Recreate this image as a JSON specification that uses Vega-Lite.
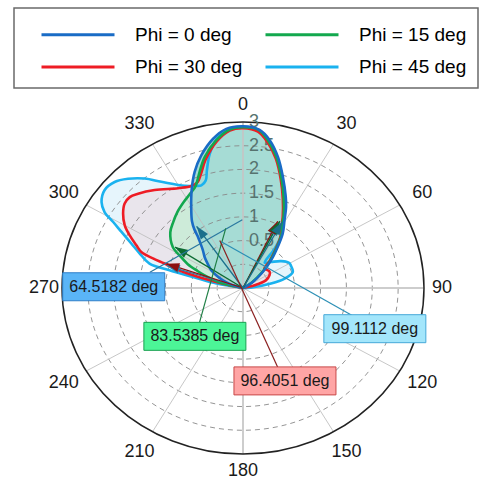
{
  "$schema": "https://vega.github.io/schema/vega-lite/v6.json",
  "width": 362,
  "height": 332,
  "autosize": {"type": "none"},
  "padding": {"left": 62, "top": 122, "right": 59, "bottom": 25},
  "background": "white",
  "config": {"view": {"stroke": null}, "font": "Liberation Sans", "legend": {"strokeWidth": 1.5}},
  "resolve": {"scale": {"color": "independent", "fill": "independent", "stroke": "independent"}},
  "datasets": {
    "curves": [
      {"series": "Phi = 45 deg", "angle": -84, "value": -0.5},
      {"series": "Phi = 45 deg", "angle": -79.7, "value": 0.02},
      {"series": "Phi = 45 deg", "angle": -76.5, "value": 0.49},
      {"series": "Phi = 45 deg", "angle": -75.3, "value": 0.97},
      {"series": "Phi = 45 deg", "angle": -74.1, "value": 1.38},
      {"series": "Phi = 45 deg", "angle": -69.9, "value": 1.63},
      {"series": "Phi = 45 deg", "angle": -66.6, "value": 1.85},
      {"series": "Phi = 45 deg", "angle": -63.3, "value": 2.13},
      {"series": "Phi = 45 deg", "angle": -61, "value": 2.37},
      {"series": "Phi = 45 deg", "angle": -59.1, "value": 2.62},
      {"series": "Phi = 45 deg", "angle": -56.5, "value": 2.78},
      {"series": "Phi = 45 deg", "angle": -52.4, "value": 2.88},
      {"series": "Phi = 45 deg", "angle": -48, "value": 2.84},
      {"series": "Phi = 45 deg", "angle": -44, "value": 2.7},
      {"series": "Phi = 45 deg", "angle": -39.5, "value": 2.49},
      {"series": "Phi = 45 deg", "angle": -35.2, "value": 2.24},
      {"series": "Phi = 45 deg", "angle": -27.6, "value": 1.93},
      {"series": "Phi = 45 deg", "angle": -23, "value": 1.84},
      {"series": "Phi = 45 deg", "angle": -20.4, "value": 1.81},
      {"series": "Phi = 45 deg", "angle": -17.6, "value": 1.88},
      {"series": "Phi = 45 deg", "angle": -15.7, "value": 2.08},
      {"series": "Phi = 45 deg", "angle": -12.8, "value": 2.4},
      {"series": "Phi = 45 deg", "angle": -9.1, "value": 2.69},
      {"series": "Phi = 45 deg", "angle": -4.4, "value": 2.87},
      {"series": "Phi = 45 deg", "angle": 0, "value": 2.9},
      {"series": "Phi = 45 deg", "angle": 5.5, "value": 2.83},
      {"series": "Phi = 45 deg", "angle": 9.4, "value": 2.63},
      {"series": "Phi = 45 deg", "angle": 13.8, "value": 2.31},
      {"series": "Phi = 45 deg", "angle": 18.3, "value": 1.93},
      {"series": "Phi = 45 deg", "angle": 23.3, "value": 1.56},
      {"series": "Phi = 45 deg", "angle": 27, "value": 1.26},
      {"series": "Phi = 45 deg", "angle": 29.3, "value": 1.1},
      {"series": "Phi = 45 deg", "angle": 33.8, "value": 0.83},
      {"series": "Phi = 45 deg", "angle": 36.5, "value": 0.5},
      {"series": "Phi = 45 deg", "angle": 38, "value": 0.18},
      {"series": "Phi = 45 deg", "angle": 44.6, "value": 0.27},
      {"series": "Phi = 45 deg", "angle": 52.5, "value": 0.43},
      {"series": "Phi = 45 deg", "angle": 59.6, "value": 0.54},
      {"series": "Phi = 45 deg", "angle": 62.7, "value": 0.54},
      {"series": "Phi = 45 deg", "angle": 70.7, "value": 0.52},
      {"series": "Phi = 45 deg", "angle": 76.1, "value": 0.33},
      {"series": "Phi = 45 deg", "angle": 80.2, "value": 0.05},
      {"series": "Phi = 45 deg", "angle": 87, "value": -0.35},
      {"series": "Phi = 45 deg", "angle": 89, "value": -0.5},

      {"series": "Phi = 30 deg", "angle": -82, "value": -0.5},
      {"series": "Phi = 30 deg", "angle": -78, "value": -0.25},
      {"series": "Phi = 30 deg", "angle": -76.1, "value": 0.05},
      {"series": "Phi = 30 deg", "angle": -74.5, "value": 0.5},
      {"series": "Phi = 30 deg", "angle": -72.6, "value": 0.92},
      {"series": "Phi = 30 deg", "angle": -71.2, "value": 1.1},
      {"series": "Phi = 30 deg", "angle": -70.3, "value": 1.35},
      {"series": "Phi = 30 deg", "angle": -69, "value": 1.6},
      {"series": "Phi = 30 deg", "angle": -66.4, "value": 1.75},
      {"series": "Phi = 30 deg", "angle": -63.1, "value": 1.96},
      {"series": "Phi = 30 deg", "angle": -60, "value": 2.14},
      {"series": "Phi = 30 deg", "angle": -55.9, "value": 2.3},
      {"series": "Phi = 30 deg", "angle": -52.1, "value": 2.4},
      {"series": "Phi = 30 deg", "angle": -48.8, "value": 2.41},
      {"series": "Phi = 30 deg", "angle": -45.6, "value": 2.34},
      {"series": "Phi = 30 deg", "angle": -39.6, "value": 2.18},
      {"series": "Phi = 30 deg", "angle": -30.8, "value": 1.95},
      {"series": "Phi = 30 deg", "angle": -24.9, "value": 1.87},
      {"series": "Phi = 30 deg", "angle": -21.5, "value": 1.9},
      {"series": "Phi = 30 deg", "angle": -18.5, "value": 2.05},
      {"series": "Phi = 30 deg", "angle": -15, "value": 2.3},
      {"series": "Phi = 30 deg", "angle": -9.4, "value": 2.63},
      {"series": "Phi = 30 deg", "angle": -4.4, "value": 2.83},
      {"series": "Phi = 30 deg", "angle": 0, "value": 2.87},
      {"series": "Phi = 30 deg", "angle": 5, "value": 2.81},
      {"series": "Phi = 30 deg", "angle": 8.8, "value": 2.61},
      {"series": "Phi = 30 deg", "angle": 13.1, "value": 2.3},
      {"series": "Phi = 30 deg", "angle": 17.6, "value": 1.91},
      {"series": "Phi = 30 deg", "angle": 22.3, "value": 1.53},
      {"series": "Phi = 30 deg", "angle": 27.2, "value": 1.18},
      {"series": "Phi = 30 deg", "angle": 29, "value": 1.05},
      {"series": "Phi = 30 deg", "angle": 33.8, "value": 0.8},
      {"series": "Phi = 30 deg", "angle": 37.8, "value": 0.52},
      {"series": "Phi = 30 deg", "angle": 42, "value": 0.27},
      {"series": "Phi = 30 deg", "angle": 45.3, "value": 0.08},
      {"series": "Phi = 30 deg", "angle": 50, "value": 0.1},
      {"series": "Phi = 30 deg", "angle": 56, "value": 0.12},
      {"series": "Phi = 30 deg", "angle": 62.3, "value": 0.08},
      {"series": "Phi = 30 deg", "angle": 70, "value": -0.03},
      {"series": "Phi = 30 deg", "angle": 75.5, "value": -0.27},
      {"series": "Phi = 30 deg", "angle": 82, "value": -0.5},

      {"series": "Phi = 15 deg", "angle": -82, "value": -0.5},
      {"series": "Phi = 15 deg", "angle": -76, "value": -0.05},
      {"series": "Phi = 15 deg", "angle": -73, "value": 0.1},
      {"series": "Phi = 15 deg", "angle": -70, "value": 0.3},
      {"series": "Phi = 15 deg", "angle": -67.8, "value": 0.45},
      {"series": "Phi = 15 deg", "angle": -64.8, "value": 0.68},
      {"series": "Phi = 15 deg", "angle": -61.2, "value": 0.88},
      {"series": "Phi = 15 deg", "angle": -57.5, "value": 1.11},
      {"series": "Phi = 15 deg", "angle": -50.2, "value": 1.33},
      {"series": "Phi = 15 deg", "angle": -44, "value": 1.44},
      {"series": "Phi = 15 deg", "angle": -38, "value": 1.55},
      {"series": "Phi = 15 deg", "angle": -32, "value": 1.65},
      {"series": "Phi = 15 deg", "angle": -27, "value": 1.74},
      {"series": "Phi = 15 deg", "angle": -23, "value": 1.84},
      {"series": "Phi = 15 deg", "angle": -18.9, "value": 2.09},
      {"series": "Phi = 15 deg", "angle": -15, "value": 2.36},
      {"series": "Phi = 15 deg", "angle": -9.4, "value": 2.66},
      {"series": "Phi = 15 deg", "angle": -4.4, "value": 2.85},
      {"series": "Phi = 15 deg", "angle": 0, "value": 2.89},
      {"series": "Phi = 15 deg", "angle": 5, "value": 2.85},
      {"series": "Phi = 15 deg", "angle": 8.8, "value": 2.65},
      {"series": "Phi = 15 deg", "angle": 13.1, "value": 2.34},
      {"series": "Phi = 15 deg", "angle": 17.6, "value": 1.95},
      {"series": "Phi = 15 deg", "angle": 22.3, "value": 1.57},
      {"series": "Phi = 15 deg", "angle": 27.2, "value": 1.22},
      {"series": "Phi = 15 deg", "angle": 29, "value": 1.08},
      {"series": "Phi = 15 deg", "angle": 33.8, "value": 0.83},
      {"series": "Phi = 15 deg", "angle": 37.8, "value": 0.55},
      {"series": "Phi = 15 deg", "angle": 42.8, "value": 0.26},
      {"series": "Phi = 15 deg", "angle": 48.5, "value": -0.02},
      {"series": "Phi = 15 deg", "angle": 56, "value": -0.3},
      {"series": "Phi = 15 deg", "angle": 65, "value": -0.5},

      {"series": "Phi = 0 deg", "angle": -85, "value": -0.5},
      {"series": "Phi = 0 deg", "angle": -72, "value": -0.25},
      {"series": "Phi = 0 deg", "angle": -67.3, "value": -0.08},
      {"series": "Phi = 0 deg", "angle": -63, "value": 0.07},
      {"series": "Phi = 0 deg", "angle": -58.6, "value": 0.22},
      {"series": "Phi = 0 deg", "angle": -53, "value": 0.36},
      {"series": "Phi = 0 deg", "angle": -48.6, "value": 0.49},
      {"series": "Phi = 0 deg", "angle": -44, "value": 0.62},
      {"series": "Phi = 0 deg", "angle": -41, "value": 0.76},
      {"series": "Phi = 0 deg", "angle": -39, "value": 0.88},
      {"series": "Phi = 0 deg", "angle": -37.3, "value": 1.05},
      {"series": "Phi = 0 deg", "angle": -35, "value": 1.22},
      {"series": "Phi = 0 deg", "angle": -31.4, "value": 1.42},
      {"series": "Phi = 0 deg", "angle": -25.7, "value": 1.79},
      {"series": "Phi = 0 deg", "angle": -20.9, "value": 2.12},
      {"series": "Phi = 0 deg", "angle": -16.1, "value": 2.41},
      {"series": "Phi = 0 deg", "angle": -10.4, "value": 2.7},
      {"series": "Phi = 0 deg", "angle": -5.5, "value": 2.87},
      {"series": "Phi = 0 deg", "angle": 0, "value": 2.91},
      {"series": "Phi = 0 deg", "angle": 5.5, "value": 2.85},
      {"series": "Phi = 0 deg", "angle": 9.4, "value": 2.66},
      {"series": "Phi = 0 deg", "angle": 13.8, "value": 2.34},
      {"series": "Phi = 0 deg", "angle": 18.3, "value": 1.96},
      {"series": "Phi = 0 deg", "angle": 23.3, "value": 1.59},
      {"series": "Phi = 0 deg", "angle": 26, "value": 1.4},
      {"series": "Phi = 0 deg", "angle": 29.3, "value": 1.14},
      {"series": "Phi = 0 deg", "angle": 33.8, "value": 0.88},
      {"series": "Phi = 0 deg", "angle": 37.8, "value": 0.59},
      {"series": "Phi = 0 deg", "angle": 42.8, "value": 0.3},
      {"series": "Phi = 0 deg", "angle": 48.5, "value": 0.01},
      {"series": "Phi = 0 deg", "angle": 56, "value": -0.27},
      {"series": "Phi = 0 deg", "angle": 65, "value": -0.5}
    ],
    "rings": [
      {"ring": 0}, {"ring": 0.5}, {"ring": 1}, {"ring": 1.5}, {"ring": 2}, {"ring": 2.5}, {"ring": 3}
    ],
    "spokes": [
      {"angle": 0}, {"angle": 30}, {"angle": 60}, {"angle": 90}, {"angle": 120}, {"angle": 150},
      {"angle": 180}, {"angle": 210}, {"angle": 240}, {"angle": 270}, {"angle": 300}, {"angle": 330}
    ],
    "angleLabels": [
      {"angle": 0, "label": "0"}, {"angle": 30, "label": "30"}, {"angle": 60, "label": "60"},
      {"angle": 90, "label": "90"}, {"angle": 120, "label": "120"}, {"angle": 150, "label": "150"},
      {"angle": 180, "label": "180"}, {"angle": 210, "label": "210"}, {"angle": 240, "label": "240"},
      {"angle": 270, "label": "270"}, {"angle": 300, "label": "300"}, {"angle": 330, "label": "330"}
    ],
    "radialLabels": [
      {"value": 0.5, "label": "0.5"}, {"value": 1, "label": "1"}, {"value": 1.5, "label": "1.5"},
      {"value": 2, "label": "2"}, {"value": 2.5, "label": "2.5"}, {"value": 3, "label": "3"}
    ],
    "arrows": [
      {"series": "Phi = 45 deg", "angle": 26.9, "value": 1.05},
      {"series": "Phi = 45 deg", "angle": -72.2, "value": 1.05},
      {"series": "Phi = 30 deg", "angle": 25.5, "value": 1.06},
      {"series": "Phi = 30 deg", "angle": -70.9, "value": 1.07},
      {"series": "Phi = 15 deg", "angle": 26.8, "value": 1.08},
      {"series": "Phi = 15 deg", "angle": -56.7, "value": 1.07},
      {"series": "Phi = 0 deg", "angle": 28.6, "value": 1.09},
      {"series": "Phi = 0 deg", "angle": -34.6, "value": 1.08}
    ],
    "annot": [
      {"series": "Phi = 0 deg", "label": "64.5182 deg", "a1": -0.5, "v1": 0.94, "a2": -79.6, "v2": 1.33, "ab": -89.4, "vb": 2.0},
      {"series": "Phi = 15 deg", "label": "83.5385 deg", "a1": -14.9, "v1": 0.8, "a2": -130.8, "v2": 0.61, "ab": -137.6, "vb": 0.88},
      {"series": "Phi = 30 deg", "label": "96.4051 deg", "a1": -24.1, "v1": 0.6, "a2": 158.1, "v2": 1.3, "ab": 157.5, "vb": 1.62},
      {"series": "Phi = 45 deg", "label": "99.1112 deg", "a1": -23.3, "v1": 0.56, "a2": 105.3, "v2": 1.68, "ab": 108.6, "vb": 2.19}
    ]
  },
  "layer": [
    {
      "data": {"name": "curves"},
      "transform": [
        {"calculate": "max(0, datum.value + 0.5)", "as": "rho"},
        {"calculate": "datum.rho * sin(datum.angle * PI / 180)", "as": "x"},
        {"calculate": "datum.rho * cos(datum.angle * PI / 180)", "as": "y"}
      ],
      "mark": {"type": "line", "interpolate": "catmull-rom", "strokeWidth": 0},
      "encoding": {
        "x": {"field": "x", "type": "quantitative", "scale": {"domain": [-3.5, 3.5], "nice": false, "zero": false}, "axis": null},
        "y": {"field": "y", "type": "quantitative", "scale": {"domain": [-3.5, 3.5], "nice": false, "zero": false}, "axis": null},
        "order": {"field": "angle", "type": "quantitative"},
        "fill": {"field": "series", "type": "nominal", "legend": null,
          "scale": {"domain": ["Phi = 45 deg", "Phi = 30 deg", "Phi = 15 deg", "Phi = 0 deg"], "range": ["#e6f5fc", "#e9e5ec", "#cdebd9", "#a6dcd5"]}}
      }
    },
    {
      "data": {"name": "rings"},
      "transform": [{"filter": "datum.ring < 3"}, {"calculate": "datum.ring + 0.5", "as": "rr"}, {"calculate": "0", "as": "x0"}],
      "mark": {"type": "point", "shape": "M-1,0C-1,-0.5065,-0.5523,-0.917,0,-0.917C0.5523,-0.917,1,-0.5065,1,0C1,0.5065,0.5523,0.917,0,0.917C-0.5523,0.917,-1,0.5065,-1,0Z", "filled": false, "opacity": 1, "strokeDash": [5, 4], "strokeWidth": 1, "color": "#8a8a8a", "strokeOpacity": 0.9},
      "encoding": {
        "x": {"field": "x0", "type": "quantitative", "scale": {"domain": [-3.5, 3.5], "nice": false, "zero": false}, "axis": null},
        "y": {"field": "x0", "type": "quantitative", "scale": {"domain": [-3.5, 3.5], "nice": false, "zero": false}, "axis": null},
        "size": {"field": "rr", "type": "quantitative", "legend": null, "scale": {"type": "pow", "exponent": 2, "domain": [0, 3.5], "range": [0, 131044]}}
      }
    },
    {
      "data": {"name": "spokes"},
      "transform": [
        {"filter": "datum.angle % 90 != 0"},
        {"calculate": "0", "as": "x0"},
        {"calculate": "3.5 * sin(datum.angle * PI / 180)", "as": "x2"},
        {"calculate": "3.5 * cos(datum.angle * PI / 180)", "as": "y2"}
      ],
      "mark": {"type": "rule", "color": "#bdbdbd", "strokeWidth": 1, "opacity": 0.85},
      "encoding": {
        "x": {"field": "x0", "type": "quantitative", "scale": {"domain": [-3.5, 3.5], "nice": false, "zero": false}, "axis": null},
        "y": {"field": "x0", "type": "quantitative", "scale": {"domain": [-3.5, 3.5], "nice": false, "zero": false}, "axis": null},
        "x2": {"field": "x2"},
        "y2": {"field": "y2"}
      }
    },
    {
      "data": {"name": "spokes"},
      "transform": [
        {"filter": "datum.angle % 90 == 0"},
        {"calculate": "0", "as": "x0"},
        {"calculate": "3.5 * sin(datum.angle * PI / 180)", "as": "x2"},
        {"calculate": "3.5 * cos(datum.angle * PI / 180)", "as": "y2"}
      ],
      "mark": {"type": "rule", "color": "#c4c4c4", "strokeWidth": 2, "opacity": 0.85},
      "encoding": {
        "x": {"field": "x0", "type": "quantitative", "scale": {"domain": [-3.5, 3.5], "nice": false, "zero": false}, "axis": null},
        "y": {"field": "x0", "type": "quantitative", "scale": {"domain": [-3.5, 3.5], "nice": false, "zero": false}, "axis": null},
        "x2": {"field": "x2"},
        "y2": {"field": "y2"}
      }
    },
    {
      "data": {"name": "rings"},
      "transform": [{"filter": "datum.ring == 3"}, {"calculate": "datum.ring + 0.5", "as": "rr"}, {"calculate": "0", "as": "x0"}],
      "mark": {"type": "point", "shape": "M-1,0C-1,-0.5065,-0.5523,-0.917,0,-0.917C0.5523,-0.917,1,-0.5065,1,0C1,0.5065,0.5523,0.917,0,0.917C-0.5523,0.917,-1,0.5065,-1,0Z", "filled": false, "opacity": 1, "strokeWidth": 1.5, "color": "#222222"},
      "encoding": {
        "x": {"field": "x0", "type": "quantitative", "scale": {"domain": [-3.5, 3.5], "nice": false, "zero": false}, "axis": null},
        "y": {"field": "x0", "type": "quantitative", "scale": {"domain": [-3.5, 3.5], "nice": false, "zero": false}, "axis": null},
        "size": {"field": "rr", "type": "quantitative", "legend": null, "scale": {"type": "pow", "exponent": 2, "domain": [0, 3.5], "range": [0, 131044]}}
      }
    },
    {
      "data": {"name": "radialLabels"},
      "transform": [{"calculate": "0", "as": "x"}, {"calculate": "datum.value + 0.5", "as": "y"}],
      "mark": {"type": "text", "align": "left", "baseline": "middle", "dx": 6, "fontSize": 18, "font": "Liberation Sans", "color": "#56736f"},
      "encoding": {
        "x": {"field": "x", "type": "quantitative", "scale": {"domain": [-3.5, 3.5], "nice": false, "zero": false}, "axis": null},
        "y": {"field": "y", "type": "quantitative", "scale": {"domain": [-3.5, 3.5], "nice": false, "zero": false}, "axis": null},
        "text": {"field": "label"}
      }
    },
    {
      "data": {"name": "curves"},
      "transform": [
        {"calculate": "max(0, datum.value + 0.5)", "as": "rho"},
        {"calculate": "datum.rho * sin(datum.angle * PI / 180)", "as": "x"},
        {"calculate": "datum.rho * cos(datum.angle * PI / 180)", "as": "y"}
      ],
      "mark": {"type": "line", "interpolate": "catmull-rom", "strokeWidth": 2.6},
      "encoding": {
        "x": {"field": "x", "type": "quantitative", "scale": {"domain": [-3.5, 3.5], "nice": false, "zero": false}, "axis": null},
        "y": {"field": "y", "type": "quantitative", "scale": {"domain": [-3.5, 3.5], "nice": false, "zero": false}, "axis": null},
        "order": {"field": "angle", "type": "quantitative"},
        "color": {"field": "series", "type": "nominal",
          "scale": {"domain": ["Phi = 0 deg", "Phi = 15 deg", "Phi = 30 deg", "Phi = 45 deg"], "range": ["#1a6cc6", "#13a84e", "#ee1c25", "#1ab2ef"]},
          "legend": {"orient": "none", "legendX": -48, "legendY": -114, "direction": "horizontal", "columns": 2, "title": null,
            "symbolType": "M-1,0H4.214", "symbolSize": 784, "symbolStrokeWidth": 3, "labelFontSize": 19, "labelFont": "Liberation Sans",
            "labelColor": "#000000", "labelOffset": 64, "columnPadding": 6, "rowPadding": 6.5, "padding": 11, "symbolOffset": 15,
            "strokeColor": "#6a6a6a", "fillColor": "white", "labelLimit": 300}}
      }
    },
    {
      "data": {"name": "arrows"},
      "transform": [
        {"calculate": "max(0, datum.value + 0.5)", "as": "rho"},
        {"calculate": "0", "as": "x0"},
        {"calculate": "datum.rho * sin(datum.angle * PI / 180)", "as": "x"},
        {"calculate": "datum.rho * cos(datum.angle * PI / 180)", "as": "y"}
      ],
      "mark": {"type": "rule", "strokeWidth": 1.3},
      "encoding": {
        "x": {"field": "x0", "type": "quantitative", "scale": {"domain": [-3.5, 3.5], "nice": false, "zero": false}, "axis": null},
        "y": {"field": "x0", "type": "quantitative", "scale": {"domain": [-3.5, 3.5], "nice": false, "zero": false}, "axis": null},
        "x2": {"field": "x"},
        "y2": {"field": "y"},
        "color": {"field": "series", "type": "nominal", "legend": null,
          "scale": {"domain": ["Phi = 0 deg", "Phi = 15 deg", "Phi = 30 deg", "Phi = 45 deg"], "range": ["#1b6f8c", "#0d6b33", "#8e1010", "#2a7fa8"]}}
      }
    },
    {
      "data": {"name": "arrows"},
      "transform": [
        {"calculate": "max(0, datum.value + 0.5)", "as": "rho"},
        {"calculate": "datum.rho * sin(datum.angle * PI / 180)", "as": "x"},
        {"calculate": "datum.rho * cos(datum.angle * PI / 180)", "as": "y"},
        {"calculate": "atan2(sin(datum.angle * PI / 180) * 1.0903, cos(datum.angle * PI / 180)) * 180 / PI", "as": "sa"}
      ],
      "mark": {"type": "point", "shape": "M0,0L0.9,2.6L-0.9,2.6Z", "size": 100, "filled": true, "opacity": 1},
      "encoding": {
        "x": {"field": "x", "type": "quantitative", "scale": {"domain": [-3.5, 3.5], "nice": false, "zero": false}, "axis": null},
        "y": {"field": "y", "type": "quantitative", "scale": {"domain": [-3.5, 3.5], "nice": false, "zero": false}, "axis": null},
        "angle": {"field": "sa", "type": "quantitative", "scale": {"domain": [-360, 360], "range": [-360, 360]}},
        "color": {"field": "series", "type": "nominal", "legend": null,
          "scale": {"domain": ["Phi = 0 deg", "Phi = 15 deg", "Phi = 30 deg", "Phi = 45 deg"], "range": ["#1b6f8c", "#0d6b33", "#8e1010", "#2a7fa8"]}}
      }
    },
    {
      "data": {"name": "annot"},
      "transform": [
        {"calculate": "(datum.v1 + 0.5) * sin(datum.a1 * PI / 180)", "as": "x1"},
        {"calculate": "(datum.v1 + 0.5) * cos(datum.a1 * PI / 180)", "as": "y1"},
        {"calculate": "(datum.v2 + 0.5) * sin(datum.a2 * PI / 180)", "as": "x2"},
        {"calculate": "(datum.v2 + 0.5) * cos(datum.a2 * PI / 180)", "as": "y2"}
      ],
      "mark": {"type": "rule", "strokeWidth": 1.2},
      "encoding": {
        "x": {"field": "x1", "type": "quantitative", "scale": {"domain": [-3.5, 3.5], "nice": false, "zero": false}, "axis": null},
        "y": {"field": "y1", "type": "quantitative", "scale": {"domain": [-3.5, 3.5], "nice": false, "zero": false}, "axis": null},
        "x2": {"field": "x2"},
        "y2": {"field": "y2"},
        "color": {"field": "series", "type": "nominal", "legend": null,
          "scale": {"domain": ["Phi = 0 deg", "Phi = 15 deg", "Phi = 30 deg", "Phi = 45 deg"], "range": ["#2a78a0", "#1f7f45", "#8b2020", "#2b8fb5"]}}
      }
    },
    {
      "data": {"name": "annot"},
      "transform": [
        {"calculate": "(datum.vb + 0.5) * sin(datum.ab * PI / 180)", "as": "x"},
        {"calculate": "(datum.vb + 0.5) * cos(datum.ab * PI / 180)", "as": "y"}
      ],
      "mark": {"type": "point", "shape": "M-1,-0.2745H1V0.2745H-1Z", "size": 10404, "filled": true, "opacity": 1, "strokeWidth": 1},
      "encoding": {
        "x": {"field": "x", "type": "quantitative", "scale": {"domain": [-3.5, 3.5], "nice": false, "zero": false}, "axis": null},
        "y": {"field": "y", "type": "quantitative", "scale": {"domain": [-3.5, 3.5], "nice": false, "zero": false}, "axis": null},
        "color": {"field": "series", "type": "nominal", "legend": null,
          "scale": {"domain": ["Phi = 0 deg", "Phi = 15 deg", "Phi = 30 deg", "Phi = 45 deg"], "range": ["#5ab5f7", "#4cf597", "#ffa5a5", "#a3e6fb"]}},
        "stroke": {"field": "series", "type": "nominal", "legend": null,
          "scale": {"domain": ["Phi = 0 deg", "Phi = 15 deg", "Phi = 30 deg", "Phi = 45 deg"], "range": ["#2f7fc8", "#18a050", "#c84848", "#45a8d8"]}}
      }
    },
    {
      "data": {"name": "annot"},
      "transform": [
        {"calculate": "(datum.vb + 0.5) * sin(datum.ab * PI / 180)", "as": "x"},
        {"calculate": "(datum.vb + 0.5) * cos(datum.ab * PI / 180)", "as": "y"}
      ],
      "mark": {"type": "text", "align": "center", "baseline": "middle", "fontSize": 16, "font": "Liberation Sans", "color": "#1a1a1a"},
      "encoding": {
        "x": {"field": "x", "type": "quantitative", "scale": {"domain": [-3.5, 3.5], "nice": false, "zero": false}, "axis": null},
        "y": {"field": "y", "type": "quantitative", "scale": {"domain": [-3.5, 3.5], "nice": false, "zero": false}, "axis": null},
        "text": {"field": "label"}
      }
    },
    {
      "data": {"name": "angleLabels"},
      "transform": [
        {"calculate": "datum.angle % 90 == 0 ? 3.85 : 4.0", "as": "lr"},
        {"calculate": "datum.lr * sin(datum.angle * PI / 180)", "as": "x"},
        {"calculate": "datum.lr * cos(datum.angle * PI / 180)", "as": "y"}
      ],
      "mark": {"type": "text", "align": "center", "baseline": "middle", "fontSize": 18, "font": "Liberation Sans", "color": "#1a1a1a"},
      "encoding": {
        "x": {"field": "x", "type": "quantitative", "scale": {"domain": [-3.5, 3.5], "nice": false, "zero": false}, "axis": null},
        "y": {"field": "y", "type": "quantitative", "scale": {"domain": [-3.5, 3.5], "nice": false, "zero": false}, "axis": null},
        "text": {"field": "label"}
      }
    }
  ]
}
